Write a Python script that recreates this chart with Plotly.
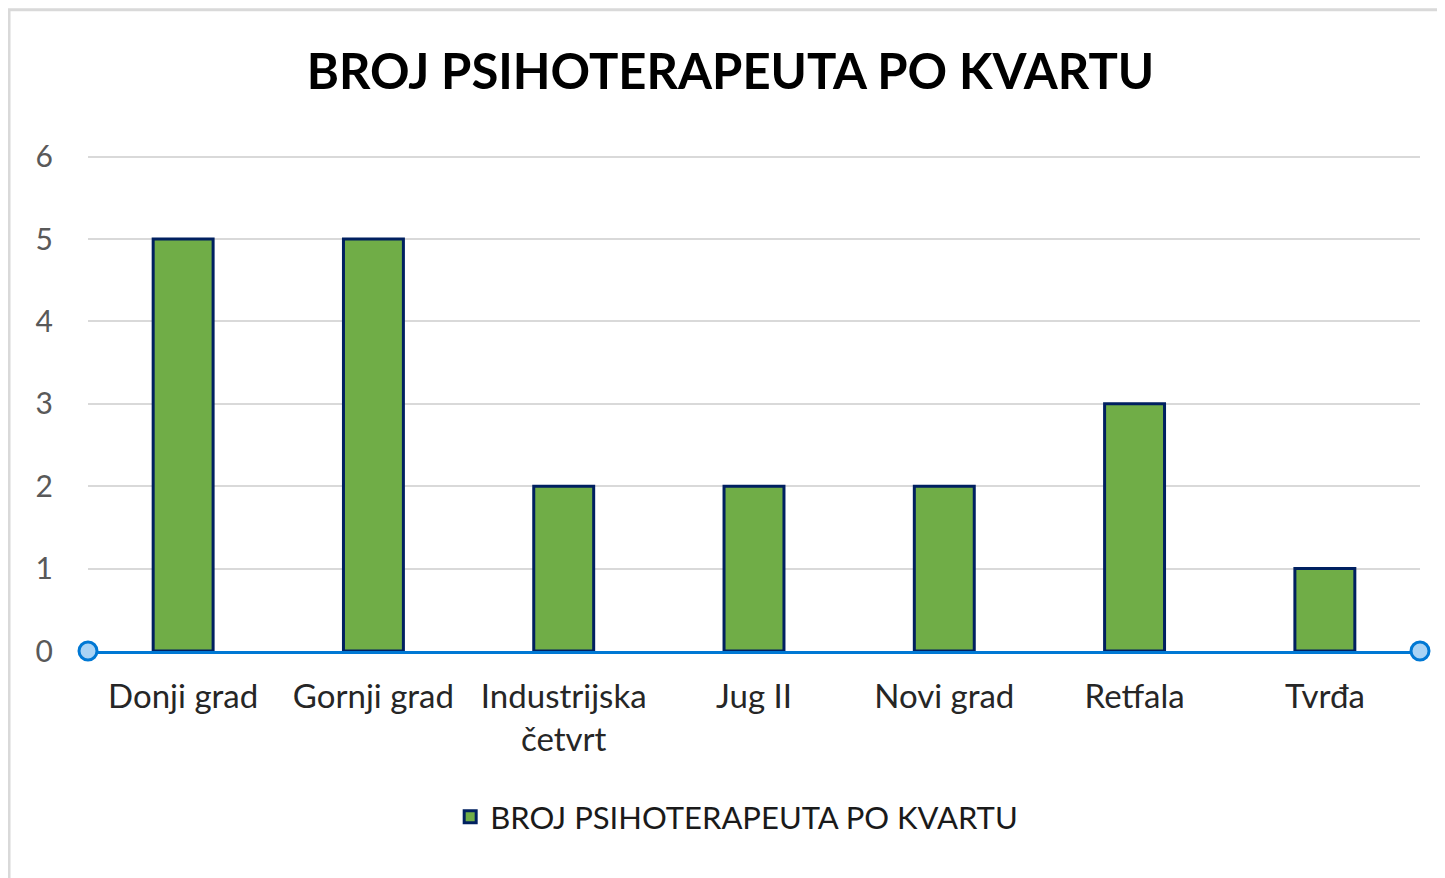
import plotly.graph_objects as go

categories = ["Donji grad", "Gornji grad", "Industrijska<br>četvrt", "Jug II",
              "Novi grad", "Retfala", "Tvrđa"]
counts = [5, 5, 2, 2, 2, 3, 1]
series_name = "BROJ PSIHOTERAPEUTA PO KVARTU"
y_ticks = [0, 1, 2, 3, 4, 5, 6]

_GREEN = "#70AD47"
_NAVY = "#002060"
_BLUE = "#0078D4"
_GRID = "#D9D9D9"
_FONT = "Lato"

fig = go.Figure()
fig.add_trace(go.Bar(
    x=categories, y=counts,
    name=series_name,
    width=0.315,
    marker=dict(color=_GREEN, line=dict(color=_NAVY, width=3)),
))

# chart border (top / left visible)
fig.add_shape(type="rect", xref="paper", yref="paper",
              x0=-0.0593, x1=1.2, y0=-0.6, y1=1.293,
              line=dict(color=_GRID, width=3), layer="below")

# selection handles on the category axis
for xp in (0, 1):
    fig.add_shape(type="circle", xref="paper", yref="paper",
                  xsizemode="pixel", ysizemode="pixel",
                  xanchor=xp, yanchor=0, x0=-9, x1=9, y0=-9, y1=9,
                  fillcolor="#A9D3F5", line=dict(color=_BLUE, width=3))

fig.update_layout(
    width=1445, height=878,
    paper_bgcolor="white", plot_bgcolor="white",
    margin=dict(l=80, r=33, t=147, b=235),
    title=dict(text="<b>BROJ PSIHOTERAPEUTA PO KVARTU</b>",
               x=0.5, xanchor="center", y=0.927, yanchor="middle",
               font=dict(family=_FONT, size=49, color="#000000")),
    font=dict(family=_FONT),
    showlegend=True,
    legend=dict(orientation="h", x=0.487, xanchor="center", y=-0.335, yanchor="middle",
                font=dict(family=_FONT, size=31, color="#1a1a1a")),
    bargap=0.685,
)
fig.update_xaxes(
    showline=True, linecolor=_BLUE, linewidth=3,
    showgrid=False, ticks="", ticklabelstandoff=14,
    tickfont=dict(family=_FONT, size=33, color="#262626"),
)
fig.update_yaxes(
    range=[0, 6.02], tickvals=y_ticks,
    showgrid=True, gridcolor=_GRID, gridwidth=2,
    zeroline=False, showline=False, ticks="", ticklabelstandoff=34,
    tickfont=dict(family=_FONT, size=30, color="#595959"),
)

fig.write_html("out.html")
